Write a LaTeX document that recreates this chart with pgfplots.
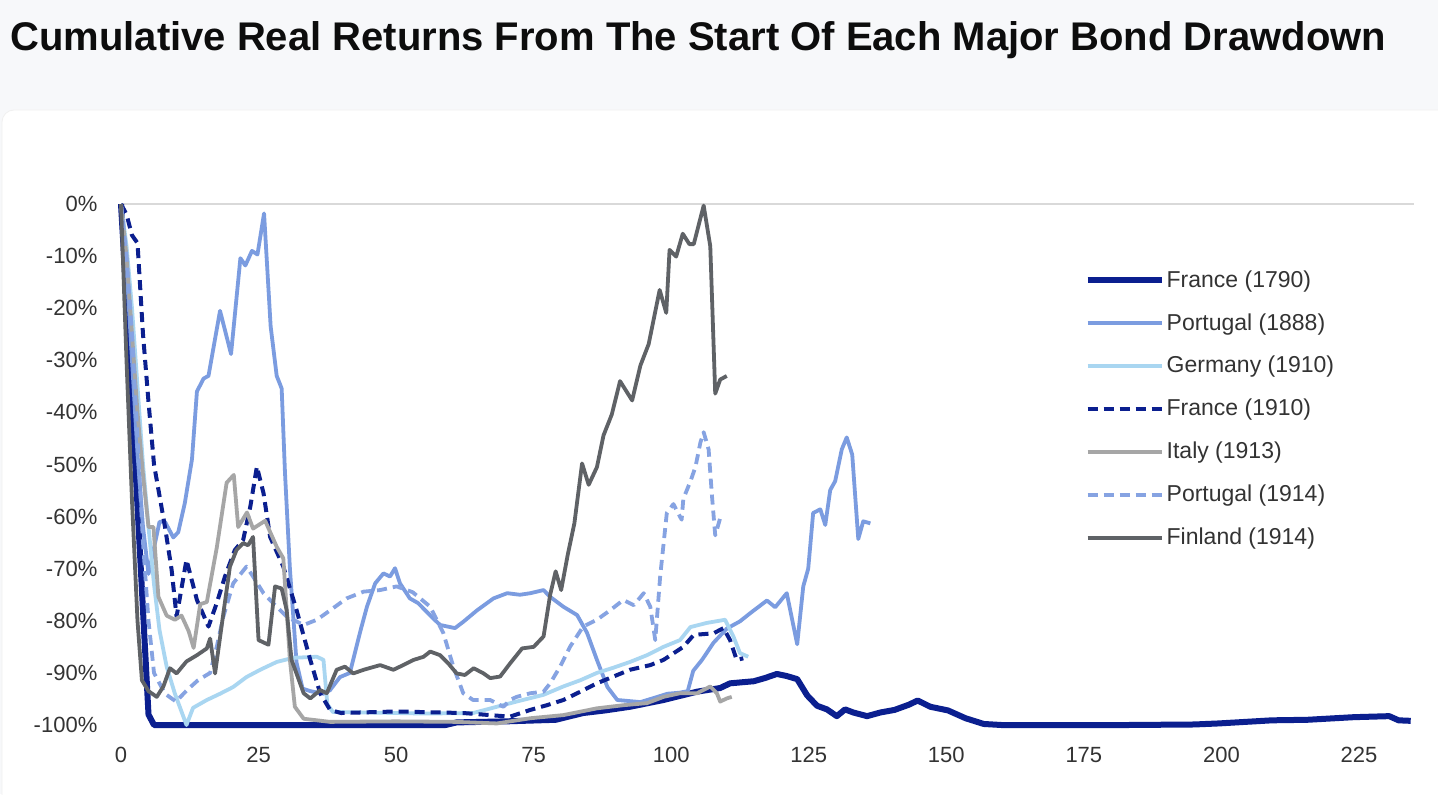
\documentclass[border=0pt]{standalone}
\usepackage{fontspec}
\setmainfont{Liberation Sans}
\usepackage{pgfplots}
\pgfplotsset{compat=1.18}
\definecolor{bgpage}{HTML}{F7F8FA}
\definecolor{navy}{HTML}{0B1F8F}
\definecolor{medblue}{HTML}{7B9CE0}
\definecolor{medblue2}{HTML}{86A3E2}
\definecolor{ltblue}{HTML}{A9D6F1}
\definecolor{ltgray}{HTML}{A6A6A6}
\definecolor{dkgray}{HTML}{5F6266}
\definecolor{gridc}{HTML}{D9D9D9}
\definecolor{ticktext}{HTML}{333333}
\begin{document}
\begin{tikzpicture}
\useasboundingbox (0pt,0pt) rectangle (719pt,397pt);
\fill[bgpage] (0pt,0pt) rectangle (719pt,397pt);
\begin{scope}
\clip (0pt,0pt) rectangle (719pt,397pt);
\fill[white, draw=black!6, rounded corners=6pt] (1pt,-10pt) rectangle (730pt,342pt);
\end{scope}
\node[anchor=base west, inner sep=0pt, font=\fontsize{20}{24}\selectfont\bfseries, text=black!95] at (5pt,371.5pt) {Cumulative Real Returns From The Start Of Each Major Bond Drawdown};
\begin{axis}[
  at={(60.5pt,34.5pt)}, anchor=south west, scale only axis,
  width=646.25pt, height=260.5pt,
  xmin=0, xmax=235, ymin=-100, ymax=0, clip=false,
  axis line style={draw=none}, tick style={draw=none},
  xtick={0,25,50,75,100,125,150,175,200,225},
  xticklabels={0,25,50,75,100,125,150,175,200,225},
  ytick={-100,-90,-80,-70,-60,-50,-40,-30,-20,-10,0},
  yticklabels={-100\%,-90\%,-80\%,-70\%,-60\%,-50\%,-40\%,-30\%,-20\%,-10\%,0\%},
  tick label style={font=\fontsize{11}{13}\selectfont, text=ticktext},
  yticklabel style={xshift=-8.3pt},
  xticklabel style={yshift=-7.5pt},
  every axis plot/.append style={line join=round},
  legend cell align=left,
  legend image code/.code={\draw[#1] (0pt,0pt) -- (37pt,0pt); \path (38pt,0pt);},
  legend style={at={(0.7450,0.8730)}, anchor=north west, draw=none, fill=none,
    inner sep=0pt, font=\fontsize{11.5}{14}\selectfont, text=ticktext,
    row sep=11.6pt, nodes={inner sep=0pt}},
]
\draw[gridc, line width=1pt] (axis cs:0,0) -- (axis cs:235,0);
% France (1790)
\addplot[navy, line width=3pt] coordinates {
(0,0) (1,-18) (2,-38) (3,-58) (4,-78) (5,-98) (6,-100) (20,-100) (40,-100) (59,-100) (61,-99.5) (70,-99.3) (79,-99) (84,-97.7) (88,-97.2) (92.5,-96.5) (98.6,-95.2) (104.7,-93.6) (108.9,-92.9) (110.7,-92) (115,-91.6) (117,-91) (119.2,-90.2) (121,-90.6) (122.9,-91.2) (124.7,-94.3) (126.5,-96.3) (128.3,-97) (130.1,-98.3) (131.6,-97) (133.1,-97.6) (135.6,-98.3) (138,-97.6) (140.6,-97.1) (143.2,-96.1) (144.8,-95.3) (147.1,-96.5) (150.3,-97.2) (153.5,-98.7) (156.8,-99.8) (160,-100) (183,-100) (195,-99.9) (199.5,-99.7) (209.2,-99.1) (215.6,-99) (224,-98.5) (230.5,-98.3) (232.2,-99.1) (234.4,-99.2)
};
\addlegendentry{France (1790)}
% Portugal (1888)
\addplot[medblue, line width=1.9pt] coordinates {
(0,0) (1,-12) (2,-30) (3,-48) (4,-62) (5,-71) (6,-66) (7,-61) (8,-61) (9.5,-64) (10.4,-63) (11.6,-57.4) (12.9,-49) (13.8,-36) (15,-33.5) (15.9,-33) (18,-20.5) (20,-28.8) (21.7,-10.4) (22.6,-11.8) (23.8,-9) (24.8,-9.7) (26,-1.8) (27.2,-23.5) (28.3,-33) (29.2,-35.4) (29.8,-51.5) (30.7,-70) (31.9,-88) (33,-93) (34.4,-93.5) (36.8,-94) (38,-93.3) (39.8,-90.8) (41.6,-90) (43.5,-82) (44.7,-77.3) (46.2,-72.8) (47.7,-70.9) (48.9,-71.5) (49.8,-69.9) (50.7,-72.8) (52.5,-75.7) (54,-76.6) (55.3,-78) (56.7,-79.5) (58,-80.8) (60.7,-81.4) (62.2,-80.2) (64.7,-78) (67.7,-75.7) (70.2,-74.7) (72.5,-75) (74.4,-74.7) (76.8,-74.1) (78,-75.4) (80.4,-77.3) (82.9,-78.9) (84.7,-82.3) (86.5,-87.5) (88.4,-92.7) (90.2,-95.2) (94.4,-95.6) (97.5,-94.6) (99.3,-94) (101.5,-93.8) (103,-93.5) (104,-89.6) (105.6,-87.5) (107.7,-84.2) (110.1,-81.5) (112.5,-80.1) (114.4,-78.5) (117.4,-76.1) (118.9,-77.4) (121,-74.7) (122.9,-84.5) (124,-73.4) (124.9,-70) (125.8,-59.3) (127.1,-58.6) (128,-61.6) (128.9,-54.9) (129.8,-53.2) (131,-47.1) (131.9,-44.8) (132.9,-48.1) (134,-64.3) (134.9,-60.9) (136.2,-61.3)
};
\addlegendentry{Portugal (1888)}
% Germany (1910)
\addplot[ltblue, line width=1.9pt] coordinates {
(0,0) (1,-8) (2,-20) (3,-35) (4,-50) (5,-62) (6,-73) (7,-81.8) (8.3,-88.8) (9.8,-94) (11.9,-100) (13.1,-96.7) (15.6,-95.2) (18,-94) (20.4,-92.7) (22.8,-90.8) (25.3,-89.4) (28.3,-87.9) (31.3,-87.1) (35.6,-86.9) (36.8,-87.5) (37.5,-96) (38.5,-97.5) (45,-97.6) (55,-97.8) (64,-97.7) (68.3,-96.5) (71.9,-95.5) (76.8,-94.2) (80.4,-92.6) (83.5,-91.4) (86.5,-90) (89.5,-89) (92.5,-87.9) (95.6,-86.6) (98.6,-85) (101.6,-83.7) (103.5,-81.2) (106.5,-80.4) (109.8,-79.8) (111.3,-83) (112.5,-86.2) (114,-86.9)
};
\addlegendentry{Germany (1910)}
% France (1910)
\addplot[navy, line width=2pt, dash pattern=on 5pt off 3pt] coordinates {
(0,0) (1,-2) (2,-6) (3,-7.5) (4,-25) (5,-38) (6,-50) (7,-56) (8,-62) (9.2,-70.2) (10.1,-79.2) (11.9,-68.3) (13.8,-76) (15.9,-81.1) (17.4,-76.6) (18.9,-71.5) (20.7,-66.4) (22.2,-64.5) (23.5,-58.1) (24.7,-50.4) (25.9,-55.5) (27.1,-63.9) (29.5,-69.6) (31.9,-77.9) (34.4,-87.5) (36.2,-93.9) (38,-97.1) (40,-97.7) (50.1,-97.4) (62.2,-97.7) (67.1,-98.1) (70.7,-98.4) (74.4,-97.1) (77.4,-96.2) (80.4,-95.2) (83.5,-93.6) (86.5,-92) (89.5,-90.7) (92.5,-89.4) (96.2,-88.5) (98.6,-87.5) (102.2,-85) (104.1,-82.7) (107.7,-82.4) (109.5,-81.4) (110.7,-83.7) (111.9,-87.5) (113.1,-87.2)
};
\addlegendentry{France (1910)}
% Italy (1913)
\addplot[ltgray, line width=1.9pt] coordinates {
(0,0) (1,-10) (2,-25) (3,-40) (4,-52) (5,-62) (5.9,-62) (6.8,-75.4) (8.3,-79) (9.8,-79.8) (11,-79) (12.3,-82) (13.2,-85.2) (14.4,-76.8) (15.6,-76.4) (17.4,-66) (19.2,-53.5) (20.5,-52) (21.3,-62) (22.9,-59.2) (24,-62.3) (26.2,-60.8) (28.3,-65.8) (29.5,-68) (30.7,-87.5) (31.6,-96.5) (33.2,-98.8) (38,-99.4) (50,-99.3) (61,-99.4) (68.3,-99.7) (74.4,-98.7) (80.4,-98.1) (86.5,-96.8) (91.3,-96.2) (95.6,-95.8) (98.6,-94.6) (101.6,-93.9) (104.7,-93.9) (107.1,-92.6) (108.3,-93.9) (108.9,-95.5) (110.1,-94.9) (111,-94.6)
};
\addlegendentry{Italy (1913)}
% Portugal (1914)
\addplot[medblue2, line width=1.9pt, dash pattern=on 5pt off 3pt] coordinates {
(0,0) (1,-10) (2,-25) (3,-45) (4,-65) (5,-80) (6,-90) (8,-94) (10,-95.5) (12,-93.3) (14,-91.4) (16.2,-90) (17.4,-85) (18.6,-79.2) (20.4,-72.8) (22.8,-69.6) (24,-71.5) (25.9,-74.7) (28.3,-77.3) (30.1,-79.2) (33.2,-80.8) (35.6,-79.8) (38,-78) (41,-75.7) (44.1,-74.4) (47.1,-74.1) (50.1,-73.4) (53,-74.5) (56.2,-77.3) (58.6,-82.4) (60.4,-88.8) (62.2,-93.9) (64,-95.2) (67.1,-95.2) (69.5,-96.5) (70.7,-95.2) (71.9,-94.6) (74.4,-93.9) (76.8,-93.6) (78,-92) (79.8,-88.8) (81.6,-85) (84,-81.1) (86.5,-79.8) (89,-77.9) (91.3,-76) (93.2,-77) (95,-74.7) (96.2,-77.3) (97.1,-83.7) (98,-71.4) (99.2,-59.3) (100.4,-57.6) (101.9,-60.6) (102.2,-56.6) (103.5,-53.2) (104.4,-50.5) (105.3,-45.8) (105.9,-43.8) (106.8,-47.1) (107.4,-55.9) (108,-63.6) (108.9,-60.3)
};
\addlegendentry{Portugal (1914)}
% Finland (1914)
\addplot[dkgray, line width=1.9pt] coordinates {
(0,0) (1,-30) (2,-57) (3,-80) (3.8,-91.4) (5,-93.5) (6.5,-94.6) (7.7,-92.6) (8.9,-89.1) (10.1,-90.1) (11.9,-87.8) (13.8,-86.6) (15.6,-85.3) (16.2,-83.4) (17.1,-90.1) (18.6,-78.6) (19.8,-69.6) (21,-66.4) (22.2,-65.1) (23.1,-65.5) (24,-63.9) (25,-83.7) (26.8,-84.6) (28,-73.4) (29.2,-73.8) (30.1,-77.9) (31,-87.5) (33.2,-93.9) (34.4,-94.9) (36.2,-93.3) (37.4,-93.9) (39.2,-89.4) (40.7,-88.8) (42.2,-90.1) (44.1,-89.4) (47.1,-88.5) (49.5,-89.4) (51.3,-88.5) (53.2,-87.5) (55,-86.9) (56.2,-85.9) (58,-86.6) (59.5,-88.2) (61,-90.1) (62.5,-90.4) (64.1,-89.1) (65.9,-90.1) (67.1,-91) (68.9,-90.7) (70.7,-88.2) (72.9,-85.3) (75,-85) (76.8,-83) (78,-75) (79,-70.5) (80,-74.1) (81.2,-67.3) (82.4,-61.3) (83.8,-49.8) (85,-53.9) (86.5,-50.5) (87.7,-44.4) (89.2,-40.4) (90.7,-34) (92.9,-37.7) (94.4,-31) (95.9,-26.9) (97.9,-16.5) (99.1,-20.9) (99.7,-8.8) (100.9,-10.1) (102.1,-5.7) (103.3,-7.7) (104.1,-7.7) (105.9,-0.3) (107.1,-8.1) (108,-36.4) (108.9,-33.7) (110.1,-33)
};
\addlegendentry{Finland (1914)}
\end{axis}
\end{tikzpicture}
\end{document}
